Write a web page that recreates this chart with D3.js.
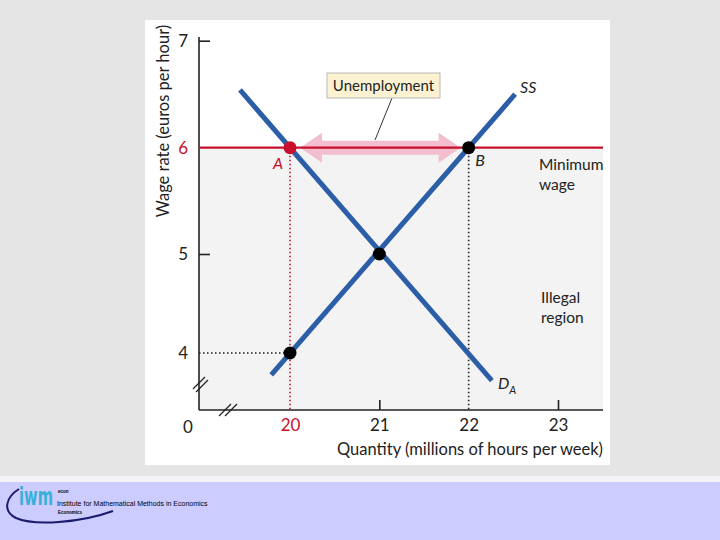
<!DOCTYPE html>
<html><head><meta charset="utf-8">
<script src="https://cdn.jsdelivr.net/npm/d3@7"></script>
<style>body{margin:0;padding:0;background:#e5e5e5;} svg{display:block;}</style>
</head><body>
<svg id="c" width="720" height="540"></svg>
<script>
// ---- data ----
const xTicks = [20, 21, 22, 23];
const yTicks = [4, 5, 6, 7];
const demandCurve = [{q: 19.44, w: 6.54}, {q: 22.26, w: 3.72}];
const supplyCurve = [{q: 19.79, w: 3.78}, {q: 22.52, w: 6.5}];
const minWage = 6;
const pointA = {q: 20, w: 6};
const pointB = {q: 22, w: 6};
const equilibrium = {q: 21, w: 5};
const supplyAt20 = {q: 20, w: 4};

const font = "Lato, 'Open Sans', sans-serif";
const red = "#c8102e", blue = "#2b5ea7", ink = "#222";

const svg = d3.select("#c");
// page background
svg.append("rect").attr("x",0).attr("y",0).attr("width",720).attr("height",540).attr("fill","#e5e5e5");
svg.append("rect").attr("x",0).attr("y",476).attr("width",720).attr("height",6).attr("fill","#f4f4f8");
svg.append("rect").attr("x",0).attr("y",482).attr("width",720).attr("height",58).attr("fill","#ccccff");
// white panel
svg.append("rect").attr("x",145).attr("y",20).attr("width",465).attr("height",445).attr("fill","#ffffff");

// scales
const x = d3.scaleLinear().domain([20, 23]).range([290, 558]);
const y = d3.scaleLinear().domain([4, 5, 6, 7]).range([353, 254, 147.7, 40.7]);
const x0 = 199, yAxisY = 410, xRight = 603, yTop = 37;

// illegal region shading
svg.append("rect").attr("x", x0).attr("y", y(minWage)).attr("width", xRight - x0)
  .attr("height", yAxisY - y(minWage)).attr("fill", "#f3f3f3");

// axes lines
svg.append("line").attr("x1",x0).attr("x2",x0).attr("y1",yTop).attr("y2",yAxisY).attr("stroke",ink).attr("stroke-width",1.6);
svg.append("line").attr("x1",x0).attr("x2",xRight).attr("y1",yAxisY).attr("y2",yAxisY).attr("stroke",ink).attr("stroke-width",1.6);

// y axis
const gy = svg.append("g").attr("transform",`translate(${x0},0)`)
  .call(d3.axisLeft(y).tickValues(yTicks).tickFormat(d3.format("d")).tickSize(-11).tickPadding(11));
gy.select(".domain").remove();
gy.selectAll(".tick line").attr("stroke", ink).attr("stroke-width",1.6)
  .attr("display", d => (d === 4 || d === 6) ? "none" : null);
gy.selectAll(".tick text").attr("font-family", font).attr("font-size", 17)
  .attr("fill", d => d === minWage ? red : ink);

// x axis
const gx = svg.append("g").attr("transform",`translate(0,${yAxisY})`)
  .call(d3.axisBottom(x).tickValues(xTicks).tickFormat(d3.format("d")).tickSize(-10).tickPadding(9));
gx.select(".domain").remove();
gx.selectAll(".tick line").attr("stroke", ink).attr("stroke-width",1.6)
  .attr("display", d => (d === 20 || d === 22) ? "none" : null);
gx.selectAll(".tick text").attr("font-family", font).attr("font-size", 17)
  .attr("fill", d => d === 20 ? red : ink);

// origin label
svg.append("text").attr("x",188).attr("y",433).attr("text-anchor","middle")
  .attr("font-family",font).attr("font-size",17).attr("fill",ink).text("0");

// axis breaks
const brk = svg.append("g").attr("stroke", ink).attr("stroke-width", 1.3);
[[193,389,205,377],[196,392,208,380]].forEach(s => brk.append("line").attr("x1",s[0]).attr("y1",s[1]).attr("x2",s[2]).attr("y2",s[3]));
[[219,416,231,404],[225,416,237,404]].forEach(s => brk.append("line").attr("x1",s[0]).attr("y1",s[1]).attr("x2",s[2]).attr("y2",s[3]));

// axis titles
svg.append("text").attr("transform",`translate(169,121) rotate(-90)`).attr("text-anchor","middle")
  .attr("font-family",font).attr("font-size",16.5).attr("fill",ink).text("Wage rate (euros per hour)");
svg.append("text").attr("x",603).attr("y",455).attr("text-anchor","end")
  .attr("font-family",font).attr("font-size",16.5).attr("fill",ink).text("Quantity (millions of hours per week)");

// dotted guides
const dots = svg.append("g").attr("stroke-dasharray","1.5,2.5").attr("stroke-width",1.6);
dots.append("line").attr("x1",x(pointA.q)).attr("x2",x(pointA.q)).attr("y1",y(pointA.w)).attr("y2",yAxisY).attr("stroke",red);
dots.append("line").attr("x1",x(pointB.q)).attr("x2",x(pointB.q)).attr("y1",y(pointB.w)).attr("y2",yAxisY).attr("stroke",ink);
dots.append("line").attr("x1",x0).attr("x2",x(supplyAt20.q)).attr("y1",y(supplyAt20.w)).attr("y2",y(supplyAt20.w)).attr("stroke",ink);

// unemployment arrow
const ax1 = x(pointA.q) + 10, ax2 = x(pointB.q) - 8, ay = y(minWage), hl = 22, sh = 7, hh = 15;
const arrowPts = [[ax1,ay],[ax1+hl,ay-hh],[ax1+hl,ay-sh],[ax2-hl,ay-sh],[ax2-hl,ay-hh],[ax2,ay],
  [ax2-hl,ay+hh],[ax2-hl,ay+sh],[ax1+hl,ay+sh],[ax1+hl,ay+hh]];
svg.append("path").attr("d", d3.line()(arrowPts) + "Z").attr("fill","#f2bccb").attr("opacity",0.95);

// minimum wage line
svg.append("line").attr("x1",x0).attr("x2",xRight).attr("y1",y(minWage)).attr("y2",y(minWage))
  .attr("stroke",red).attr("stroke-width",2.2);

// curves
const line = d3.line().x(d => x(d.q)).y(d => y(d.w));
svg.append("path").datum(demandCurve).attr("d",line).attr("stroke",blue).attr("stroke-width",5).attr("fill","none");
svg.append("path").datum(supplyCurve).attr("d",line).attr("stroke",blue).attr("stroke-width",5).attr("fill","none");

// points
svg.append("circle").attr("cx",x(pointA.q)).attr("cy",y(pointA.w)).attr("r",6.5).attr("fill",red);
[pointB, equilibrium, supplyAt20].forEach(p =>
  svg.append("circle").attr("cx",x(p.q)).attr("cy",y(p.w)).attr("r",6.5).attr("fill","#000"));

// labels
svg.append("text").attr("x",278).attr("y",169).attr("text-anchor","middle").attr("font-family",font)
  .attr("font-size",16).attr("font-style","italic").attr("fill",red).text("A");
svg.append("text").attr("x",480).attr("y",166).attr("text-anchor","middle").attr("font-family",font)
  .attr("font-size",16).attr("font-style","italic").attr("fill",ink).text("B");
svg.append("text").attr("x",520).attr("y",93).attr("font-family",font)
  .attr("font-size",16).attr("font-style","italic").attr("fill",ink).text("SS");
const da = svg.append("text").attr("x",498).attr("y",389).attr("font-family",font)
  .attr("font-size",16).attr("font-style","italic").attr("fill",ink);
da.append("tspan").text("D");
da.append("tspan").attr("font-size",11).attr("dy",5).text("A");

svg.append("text").attr("x",539).attr("y",170).attr("font-family",font).attr("font-size",15.5).attr("fill",ink).text("Minimum");
svg.append("text").attr("x",539).attr("y",190).attr("font-family",font).attr("font-size",15.5).attr("fill",ink).text("wage");
svg.append("text").attr("x",541).attr("y",303).attr("font-family",font).attr("font-size",15.5).attr("fill",ink).text("Illegal");
svg.append("text").attr("x",541).attr("y",323).attr("font-family",font).attr("font-size",15.5).attr("fill",ink).text("region");

// unemployment callout
svg.append("line").attr("x1",392).attr("y1",98).attr("x2",375).attr("y2",140).attr("stroke","#333").attr("stroke-width",1);
svg.append("rect").attr("x",327).attr("y",73).attr("width",113).attr("height",25).attr("fill","#fcf2d2").attr("stroke","#b8b8b8").attr("stroke-width",1);
svg.append("text").attr("x",383.5).attr("y",91).attr("text-anchor","middle").attr("font-family",font)
  .attr("font-size",15).attr("fill",ink).text("Unemployment");

// footer logo
svg.append("path").attr("d","M19,489 C6,497 2,511 16,518 C34,526 80,523 113,511")
  .attr("fill","none").attr("stroke","#1a1a6e").attr("stroke-width",2);
const logo = svg.append("text").attr("x",0).attr("y",0).attr("font-family","'DejaVu Sans', sans-serif").attr("font-weight","bold")
  .attr("font-size",24).attr("fill","#3ab0d8").text("iwm");
const natW = logo.node().getComputedTextLength() || 55;
logo.attr("transform", `translate(19,505) scale(${34 / natW},1)`);
svg.append("text").attr("x",58).attr("y",493).attr("font-family","Arial, sans-serif").attr("font-weight","bold")
  .attr("font-size",4.5).attr("fill","#000").text("econ");
svg.append("text").attr("x",57).attr("y",505.5).attr("font-family","'Liberation Sans', Arial, sans-serif")
  .attr("font-size",7).attr("fill","#000").text("Institute for Mathematical Methods in Economics");
svg.append("text").attr("x",58).attr("y",514).attr("font-family","Arial, sans-serif").attr("font-weight","bold")
  .attr("font-size",4.5).attr("fill","#000").text("Economics");
</script>
</body></html>
